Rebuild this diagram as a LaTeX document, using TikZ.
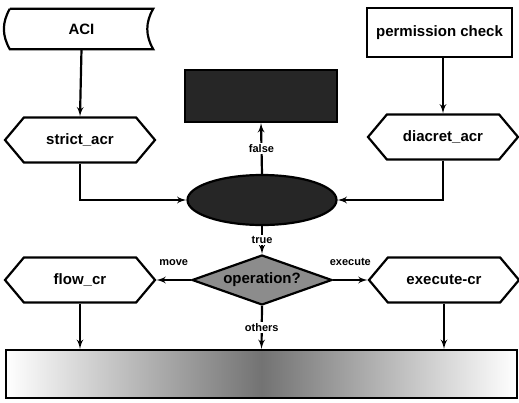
\documentclass[tikz,border=0pt]{standalone}
\usepackage{fontspec}
\setmainfont{Liberation Sans}
\usepackage{tikz}
\usetikzlibrary{arrows}
\usetikzlibrary{shapes,arrows}
\usetikzlibrary{positioning}
\tikzstyle{srcbox} = [rectangle, minimum width=143pt, minimum height=40pt,
font=\bfseries\fontsize{15}{18}\selectfont]
\tikzstyle{outline} = [draw, line width=2.2pt, fill=white]
\tikzstyle{permbox} = [rectangle, draw, fill=white, line width=2.2pt,
minimum width=145pt, minimum height=49pt, inner sep=2pt, font=\bfseries\fontsize{15}{18}\selectfont]
\tikzstyle{hexa} = [signal, signal to=west and east, signal pointer angle=100,
draw, fill=white, line width=2.2pt, minimum width=150pt, minimum height=45pt,
font=\bfseries\fontsize{15}{18}\selectfont]
\tikzstyle{darkbox} = [rectangle, draw, fill=black!85, line width=2.2pt,
minimum width=152pt, minimum height=52pt]
\tikzstyle{darkoval} = [ellipse, draw, fill=black!85, line width=2.2pt,
minimum width=149pt, minimum height=50pt]
\tikzstyle{decide} = [diamond, aspect=2.8, draw, fill=black!45, line width=2.2pt,
minimum width=140pt, minimum height=50pt, inner sep=1pt, font=\bfseries\fontsize{15}{18}\selectfont]
\tikzstyle{resultbox} = [rectangle, draw, line width=2.2pt, left color=white,
right color=white, middle color=black!55, minimum width=511pt, minimum height=48pt]
\tikzstyle{lbl} = [fill=white, inner sep=1pt, font=\bfseries\fontsize{11}{13}\selectfont]
\tikzstyle{line} = [draw, -latex', line width=2.2pt]

\begin{document}
\begin{tikzpicture}[x=1pt,y=-1pt]
	\useasboundingbox (0,0) rectangle (519,402);
	\node [srcbox] at (81.5,29) (ACI) {};
	\path [outline] (ACI.north west) -- (ACI.north east) to[bend right=30] (ACI.south east)
		-- (ACI.south west) to[bend left=30] (ACI.north west);
	\node [srcbox] at (81.5,29) (ACItext) {ACI};
	\node [permbox] at (439.5,32.5) (Perm) {permission check};
	\node [hexa] at (80,140) (Strict) {strict\_acr};
	\node [hexa] at (443,137) (Discret) {diacret\_acr};
	\node [darkbox] at (261,96) (Deny) {};
	\node [darkoval] at (262,200) (Check) {};
	\node [decide] at (262,280) (Oper) {operation?};
	\node [hexa] at (80,280) (Flow) {flow\_cr};
	\node [hexa] at (444,280) (Exec) {execute-cr};
	\node [resultbox] at (261.5,374) (Result) {};
	\path [line] (ACI.south) -- (Strict.north);
	\path [line] (Perm.south -| Discret.north) -- (Discret.north);
	\path [line] (Strict.south) |- (Check.west);
	\path [line] (Discret.south) |- (Check.east);
	\path [line] (Check.north) -- node [lbl] {false} (Deny.south);
	\path [line] (Check.south) -- node [lbl] {true} (Oper.north);
	\path [line] (Oper.west) -- node [lbl, above=12pt] {move} (Flow.east);
	\path [line] (Oper.east) -- node [lbl, above=12pt] {execute} (Exec.west);
	\path [line] (Oper.south) -- node [lbl] {others} (Result.north);
	\path [line] (Flow.south) -- (Flow.south |- Result.north);
	\path [line] (Exec.south) -- (Exec.south |- Result.north);
\end{tikzpicture}
\end{document}
